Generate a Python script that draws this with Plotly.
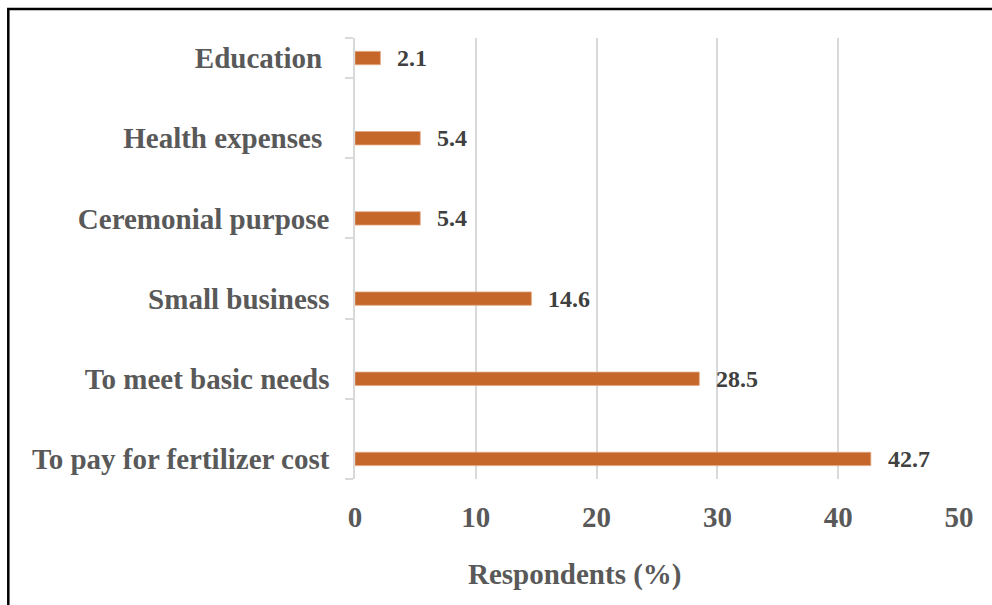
import plotly.graph_objects as go

# Reasons for taking credit, share of respondents (%)
categories = [
    "To pay for fertilizer cost",
    "To meet basic needs",
    "Small business",
    "Ceremonial purpose",
    "Health expenses\u00a0",
    "Education\u00a0",
]
values = [42.7, 28.5, 14.6, 5.4, 5.4, 2.1]
x_ticks = [0, 10, 20, 30, 40, 50]

W, H = 992, 605
L, R, T, B = 355, 33, 38, 126          # plot area: x 355..959, y 38..479
pw, ph = W - L - R, H - T - B

BAR = "#C5662B"
GRID = "#D9D9D9"
TXT = "#595959"
SERIF = "Liberation Serif, Times New Roman, serif"

positions = list(range(len(categories)))

fig = go.Figure(
    go.Bar(
        x=values,
        y=positions,
        orientation="h",
        width=0.166,
        marker=dict(color=BAR, line=dict(color="#E3A47E", width=0.8)),
        hoverinfo="x+y",
    )
)

# value labels beside each bar
for pos, v in zip(positions, values):
    fig.add_annotation(
        x=v, y=pos, xref="x", yref="y",
        text=f"<b>{v:.1f}</b>", showarrow=False,
        xanchor="left", yanchor="middle", xshift=15,
        font=dict(family=SERIF, size=24, color="#404040"),
    )

# axis title
fig.add_annotation(
    x=(574.5 - L) / pw, y=(T + ph - 574) / ph, xref="paper", yref="paper",
    text="<b>Respondents (%)</b>", showarrow=False,
    xanchor="center", yanchor="middle",
    font=dict(family=SERIF, size=29, color=TXT),
)

# outer frame
fig.add_shape(
    type="rect", xref="paper", yref="paper",
    x0=(8.3 - L) / pw, x1=1.3,
    y0=-0.6, y1=1 + (T - 9) / ph,
    line=dict(color="black", width=2.5), fillcolor="rgba(0,0,0,0)",
    layer="above",
)

minor_vals = [p - 0.25 for p in positions] + [positions[-1] + 0.25]

fig.update_layout(
    width=W, height=H,
    margin=dict(l=L, r=R, t=T, b=B, pad=0),
    paper_bgcolor="white", plot_bgcolor="white",
    showlegend=False,
    font=dict(family=SERIF, color=TXT),
    xaxis=dict(
        range=[0, 50], tickvals=x_ticks,
        ticktext=[f"<b>{t}</b>" for t in x_ticks],
        showgrid=True, gridcolor=GRID, gridwidth=1.5,
        zeroline=False, showline=False,
        ticks="outside", ticklen=12, tickcolor="rgba(0,0,0,0)",
        tickfont=dict(family=SERIF, size=29, color=TXT),
        fixedrange=True,
    ),
    yaxis=dict(
        range=[-0.25, positions[-1] + 0.25],
        tickvals=positions,
        ticktext=[f"<b>{c}</b>" for c in categories],
        showgrid=False, zeroline=False,
        showline=True, linecolor=GRID, linewidth=1.5,
        ticks="outside", ticklen=18, tickcolor="rgba(0,0,0,0)",
        tickfont=dict(family=SERIF, size=29, color=TXT),
        minor=dict(tickvals=minor_vals, ticks="outside", ticklen=8,
                   tickcolor=GRID, tickwidth=1.5, showgrid=False),
        fixedrange=True,
    ),
)

fig.write_html("out.html")
